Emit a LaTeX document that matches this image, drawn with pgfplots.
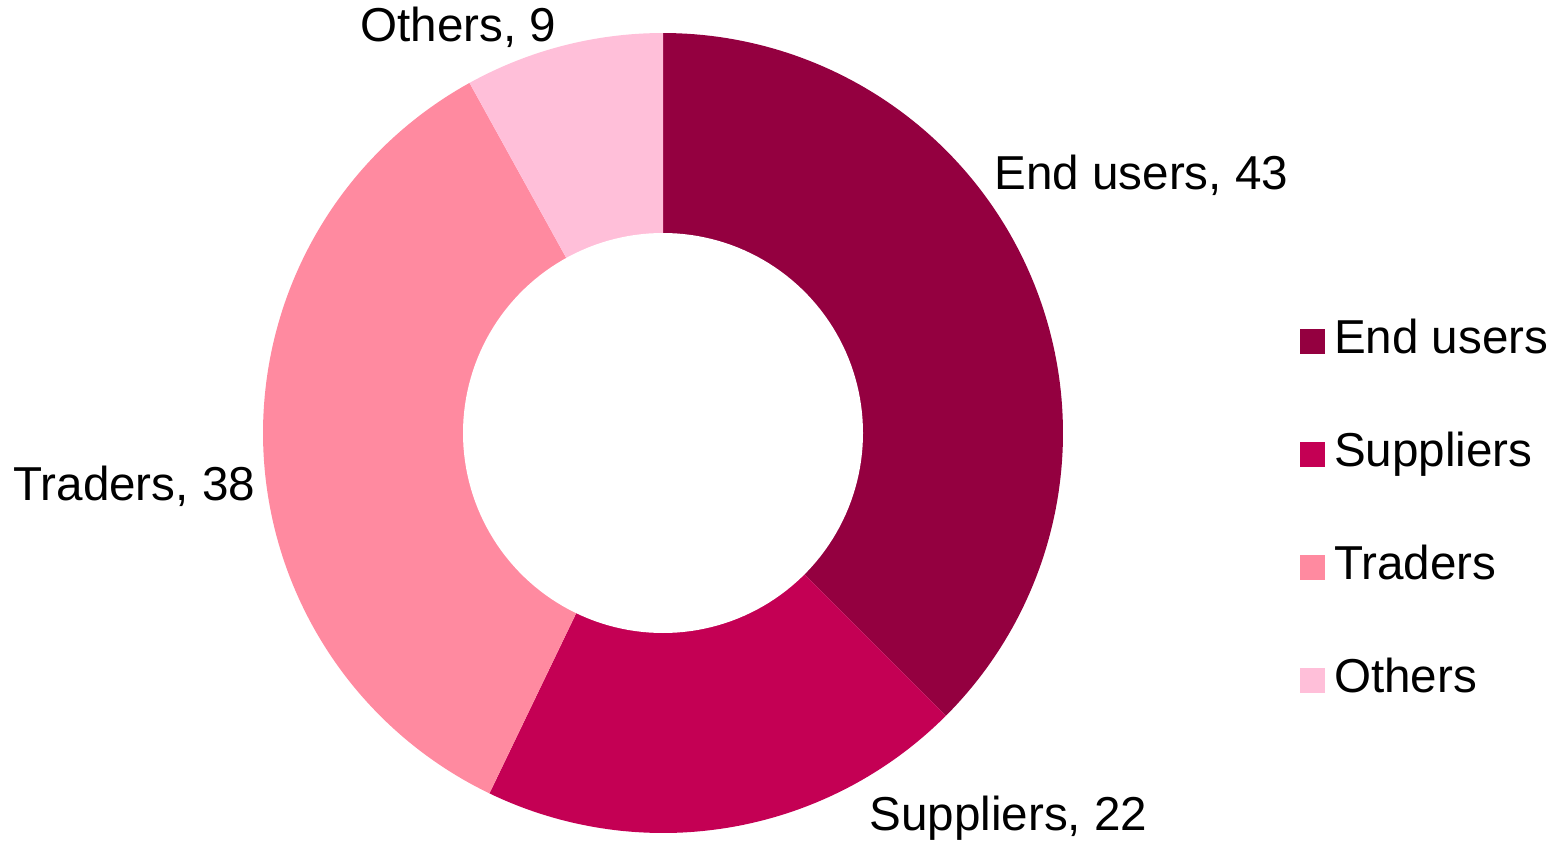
\documentclass[border=0pt]{standalone}
\usepackage{pgfplots}
\pgfplotsset{compat=1.18}
\usepackage{pgfplotstable}
\usepackage{fontspec}
\setmainfont{Liberation Sans}
\definecolor{cEnd}{RGB}{148,0,64}
\definecolor{cSup}{RGB}{196,0,84}
\definecolor{cTra}{RGB}{255,138,160}
\definecolor{cOth}{RGB}{255,191,217}

% share = angular share, label = value printed beside the slice
\pgfplotstableread{
share label
42 43
22 22
39 38
9 9
}\donutdata

\begin{document}%
\begin{tikzpicture}[font=\fontsize{23.8pt}{28pt}\selectfont]
\pgfplotstablegetelem{0}{share}\of\donutdata \edef\sA{\pgfplotsretval}
\pgfplotstablegetelem{1}{share}\of\donutdata \edef\sB{\pgfplotsretval}
\pgfplotstablegetelem{2}{share}\of\donutdata \edef\sC{\pgfplotsretval}
\pgfplotstablegetelem{3}{share}\of\donutdata \edef\sD{\pgfplotsretval}
\pgfplotstablegetelem{0}{label}\of\donutdata \edef\lA{\pgfplotsretval}
\pgfplotstablegetelem{1}{label}\of\donutdata \edef\lB{\pgfplotsretval}
\pgfplotstablegetelem{2}{label}\of\donutdata \edef\lC{\pgfplotsretval}
\pgfplotstablegetelem{3}{label}\of\donutdata \edef\lD{\pgfplotsretval}
\pgfmathsetmacro\tot{\sA+\sB+\sC+\sD}
\pgfmathsetmacro\eA{90-360*\sA/\tot}
\pgfmathsetmacro\eB{\eA-360*\sB/\tot}
\pgfmathsetmacro\eC{\eB-360*\sC/\tot}
\pgfmathsetmacro\eD{\eC-360*\sD/\tot}
\useasboundingbox (0,0) rectangle (784pt,421pt);
\begin{axis}[
  at={(0,0)}, anchor=south west,
  scale only axis, width=784pt, height=421pt,
  xmin=0, xmax=1568, ymin=0, ymax=842,
  hide axis, clip=false,
  legend image code/.code={\fill[#1] (0pt,-6.25pt) rectangle (12.5pt,6.25pt);},
  legend cell align=left,
  legend style={at={(axis cs:1300,523)}, anchor=north west, draw=none, fill=none,
    inner sep=0pt, outer sep=0pt, row sep=34.5pt, column sep=4.5pt,
    nodes={inner sep=0pt, outer sep=0pt, text height=17pt, text depth=5pt},
    font=\fontsize{23.8pt}{28pt}\selectfont},
]
\addplot[fill=cEnd, draw=none, domain=\eA:90, samples=120, variable=\t]
  ({663+400*cos(\t)},{409+400*sin(\t)}) -- (axis cs:663,409) -- cycle;
\addlegendentry{End users}
\addplot[fill=cSup, draw=none, domain=\eB:\eA, samples=80, variable=\t]
  ({663+400*cos(\t)},{409+400*sin(\t)}) -- (axis cs:663,409) -- cycle;
\addlegendentry{Suppliers}
\addplot[fill=cTra, draw=none, domain=\eC:\eB, samples=120, variable=\t]
  ({663+400*cos(\t)},{409+400*sin(\t)}) -- (axis cs:663,409) -- cycle;
\addlegendentry{Traders}
\addplot[fill=cOth, draw=none, domain=\eD:\eC, samples=40, variable=\t]
  ({663+400*cos(\t)},{409+400*sin(\t)}) -- (axis cs:663,409) -- cycle;
\addlegendentry{Others}
\addplot[fill=white, draw=none, domain=0:360, samples=181, variable=\t, forget plot]
  ({663+200*cos(\t)},{409+200*sin(\t)}) -- cycle;
\node[anchor=base west, inner sep=0pt] at (axis cs:994,652) {End users, \lA};
\node[anchor=base west, inner sep=0pt] at (axis cs:869,12) {Suppliers, \lB};
\node[anchor=base west, inner sep=0pt] at (axis cs:13,342) {Traders, \lC};
\node[anchor=base west, inner sep=0pt] at (axis cs:360,800) {Others, \lD};
\end{axis}
\end{tikzpicture}%
\end{document}
